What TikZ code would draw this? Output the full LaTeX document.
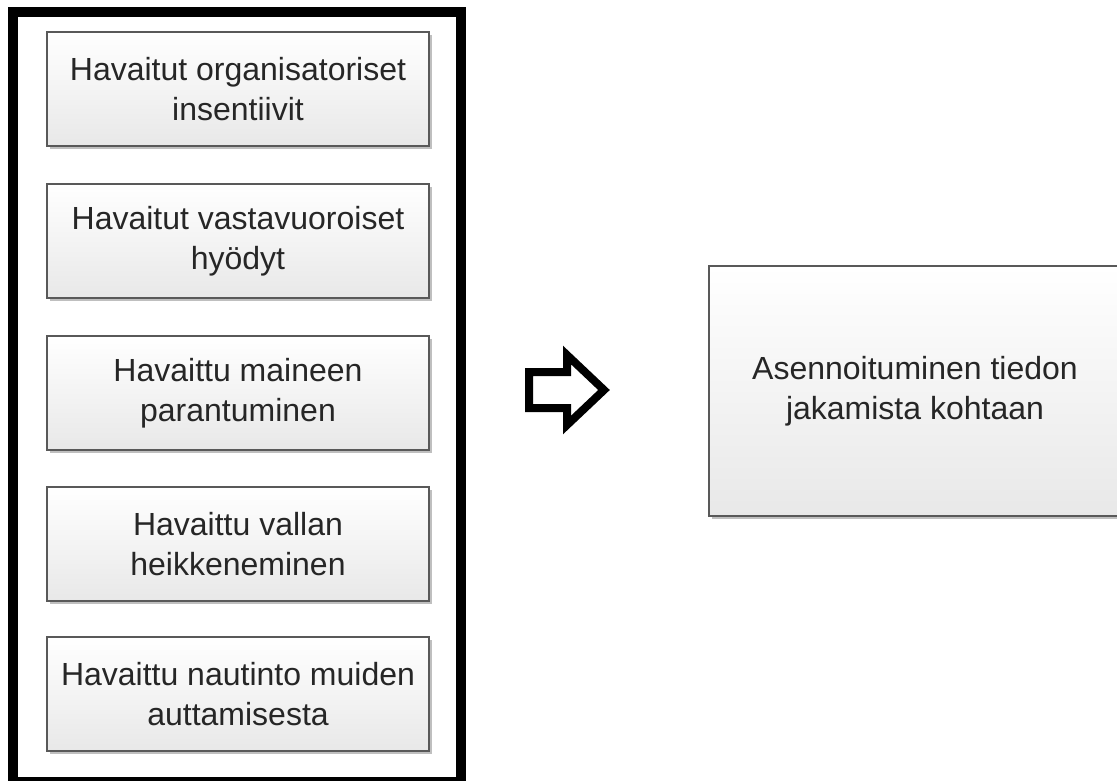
\documentclass[tikz,border=0pt]{standalone}
\usepackage{fontspec}
\setmainfont{Liberation Sans}
\usetikzlibrary{shadows}
\begin{document}
\begin{tikzpicture}[x=1pt,y=-1pt,
  factor/.style={draw=black!65, line width=1.2pt, top color=white, bottom color=black!9,
    minimum width=382pt, minimum height=114pt, align=center, inner sep=0pt,
    font=\fontsize{32}{40}\selectfont, text=black!85,
    drop shadow={shadow xshift=2.5pt, shadow yshift=-2.5pt, opacity=0.25, fill=black}},
  outcome/.style={factor, minimum width=412pt, minimum height=250pt},
  frame/.style={draw=black, line width=10pt},
  blockarrow/.style={draw=black, line width=8pt, line join=miter, fill=white}]
\useasboundingbox (0,0) rectangle (1117,780);
\begin{scope}
\clip (0,0) rectangle (1117,780);
\draw[frame] (13,12) rectangle (461,782);
\node[factor] (f1) at (238,89) {Havaitut organisatoriset\\insentiivit};
\node[factor] (f2) at (238,241) {Havaitut vastavuoroiset\\hyödyt};
\node[factor] (f3) at (238,393) {Havaittu maineen\\parantuminen};
\node[factor] (f4) at (238,544) {Havaittu vallan\\heikkeneminen};
\node[factor] (f5) at (238,694) {Havaittu nautinto muiden\\auttamisesta};
\node[outcome] (out) at (915,391) {Asennoituminen tiedon\\jakamista kohtaan};
\coordinate (a1) at (529,372);
\coordinate (a2) at (567,372);
\coordinate (a3) at (567,355);
\coordinate (a4) at (604,390);
\coordinate (a5) at (567,425);
\coordinate (a6) at (567,408);
\coordinate (a7) at (529,408);
\draw[blockarrow] (a1) -- (a2) -- (a3) -- (a4) -- (a5) -- (a6) -- (a7) -- cycle;
\end{scope}
\end{tikzpicture}
\end{document}
